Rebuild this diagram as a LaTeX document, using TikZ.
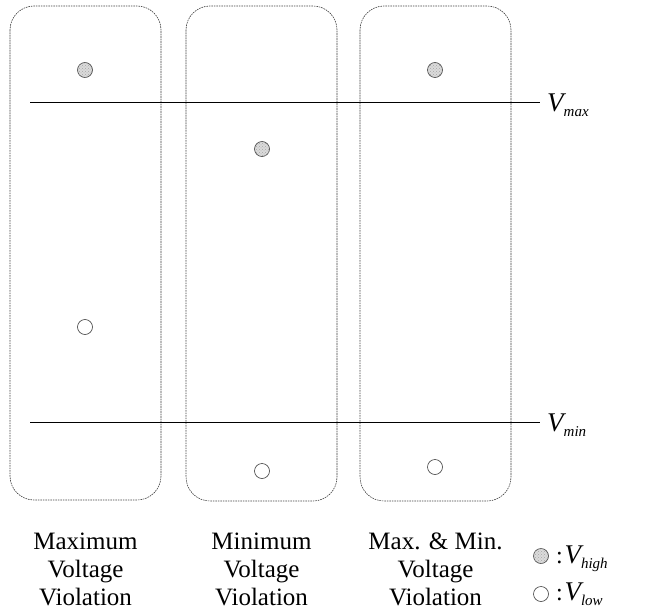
\documentclass[tikz,border=0pt]{standalone}
\usepackage{fontspec}
\usetikzlibrary{patterns}
\setmainfont{Liberation Serif}
\newcommand{\vsub}[1]{{\fontsize{27}{28}\selectfont\itshape V}\raisebox{-5pt}{\fontsize{15}{15}\selectfont\itshape #1}}
\begin{document}
\begin{tikzpicture}[x=1pt,y=-1pt,
  region/.style={draw=black!75,line width=0.6pt,dash pattern=on 1.6pt off 0.9pt,rounded corners=24pt},
  hi/.style={circle,draw=black!75,line width=0.6pt,fill=black!14,minimum size=15pt,inner sep=0pt,
    postaction={pattern=crosshatch dots,pattern color=black!35}},
  lo/.style={circle,draw=black!75,line width=0.6pt,fill=white,minimum size=15pt,inner sep=0pt},
  lim/.style={draw=black,line width=0.6pt},
  colcap/.style={font=\fontsize{25}{27}\selectfont,anchor=base,inner sep=0pt},
  vlab/.style={anchor=base west,inner sep=0pt}]
\useasboundingbox (0,0) rectangle (648,610);
\draw[region] (10,6) rectangle (161,500);
\draw[region] (186,6) rectangle (337,501);
\draw[region] (360,6) rectangle (511,501);
\coordinate (maxL) at (30,102);
\coordinate (maxR) at (540,102);
\coordinate (minL) at (30,422);
\coordinate (minR) at (540,422);
\draw[lim] (maxL) -- (maxR);
\draw[lim] (minL) -- (minR);
\node[vlab] (vmax) at (547,111) {\vsub{max}};
\node[vlab] (vmin) at (547,431) {\vsub{min}};
\node[hi] (h1) at (85,70) {};
\node[lo] (l1) at (85,327) {};
\node[hi] (h2) at (262,149) {};
\node[lo] (l2) at (262,471) {};
\node[hi] (h3) at (435,70) {};
\node[lo] (l3) at (435,467) {};
\node[colcap] (c1a) at (85.5,549) {Maximum};
\node[colcap] (c1b) at (85.5,577) {Voltage};
\node[colcap] (c1c) at (85.5,605) {Violation};
\node[colcap] (c2a) at (261.5,549) {Minimum};
\node[colcap] (c2b) at (261.5,577) {Voltage};
\node[colcap] (c2c) at (261.5,605) {Violation};
\node[colcap] (c3a) at (435.5,549) {Max. \& Min.};
\node[colcap] (c3b) at (435.5,577) {Voltage};
\node[colcap] (c3c) at (435.5,605) {Violation};
\node[hi] (lh) at (541,556) {};
\node[lo] (ll) at (541,594) {};
\node[vlab] (lht) at (556,563) {{\fontsize{24}{26}\selectfont :}\,\vsub{high}};
\node[vlab] (llt) at (556,600) {{\fontsize{24}{26}\selectfont :}\,\vsub{low}};
\end{tikzpicture}
\end{document}
